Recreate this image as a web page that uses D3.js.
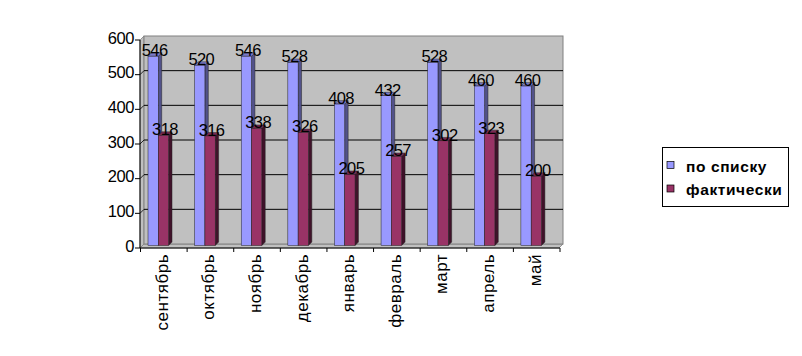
<!DOCTYPE html>
<html><head><meta charset="utf-8">
<script src="https://cdn.jsdelivr.net/npm/d3@7"></script>
<style>body{margin:0;background:#fff}svg{display:block}text{font-family:"Liberation Sans",Arial,sans-serif;fill:#000}</style>
</head><body>
<script>
const categories = ["сентябрь","октябрь","ноябрь","декабрь","январь","февраль","март","апрель","май"];
const seriesNames = ["по списку","фактически"];
const planned = [546,520,546,528,408,432,528,460,460];
const actual = [318,316,338,326,205,257,302,323,200];
const yTicks = [0,100,200,300,400,500,600];
const colors = [{front:"#9999ff", side:"#52528a", top:"#7a7acc"},{front:"#993366", side:"#40122a", top:"#7a2952"}];
const series = [planned, actual];

const W=802,H=356;
const svg=d3.select("body").append("svg").attr("width",W).attr("height",H);
const D=4; // wall depth offset
const x=d3.scaleBand().domain(categories).range([140.5,560]);
const yF=d3.scaleLinear().domain([0,600]).range([248,40]);
const yB=v=>yF(v)-D;
const yBar=v=>yF(v)-2.5;

// side wall
svg.append("path").attr("d",`M140,${yF(0)}L${140+D},${yB(0)}L${140+D},${yB(600)}L140,${yF(600)}Z`).attr("fill","#c0c0c0").attr("stroke","#808080").attr("stroke-width",0.8);
// floor
svg.append("path").attr("d",`M140,${yF(0)}L${140+D},${yB(0)}L${563},${yB(0)}L${559},${yF(0)}Z`).attr("fill","#c0c0c0").attr("stroke","#808080").attr("stroke-width",0.8);
// back wall
svg.append("rect").attr("x",140+D).attr("y",yB(600)).attr("width",563-140-D).attr("height",yB(0)-yB(600)).attr("fill","#c0c0c0").attr("stroke","#808080").attr("stroke-width",1);
// gridlines
yTicks.filter(t=>t>0&&t<600).forEach(t=>{
  svg.append("line").attr("x1",140+D).attr("x2",563).attr("y1",yB(t)).attr("y2",yB(t)).attr("stroke","#000").attr("stroke-width",1);
  svg.append("line").attr("x1",140).attr("x2",140+D).attr("y1",yF(t)).attr("y2",yB(t)).attr("stroke","#000").attr("stroke-width",0.8);
});

// bars
const bw=10.3, dd=3.4, off=7.5;
categories.forEach((c,i)=>{
  series.forEach((s,k)=>{
    const x0=x(c)+off+k*bw, x1=x0+bw, yt=yBar(s[i]), yb=yBar(0);
    const col=colors[k];
    const g=svg.append("g");
    g.append("path").attr("d",`M${x1},${yb}L${x1+dd},${yb-dd}L${x1+dd},${yt-dd}L${x1},${yt}Z`).attr("fill",col.side).attr("stroke","#222").attr("stroke-width",0.5);
    g.append("path").attr("d",`M${x0},${yt}L${x0+dd},${yt-dd}L${x1+dd},${yt-dd}L${x1},${yt}Z`).attr("fill",col.top).attr("stroke","#222").attr("stroke-width",0.5);
    g.append("rect").attr("x",x0).attr("y",yt).attr("width",bw).attr("height",yb-yt).attr("fill",col.front).attr("stroke","#222").attr("stroke-width",0.5);
  });
});
// data labels
categories.forEach((c,i)=>{
  series.forEach((s,k)=>{
    const cx=x(c)+off+k*bw+bw/2+1.5;
    svg.append("text").attr("x",cx).attr("y",yBar(s[i])).attr("text-anchor","middle").attr("font-size",16.5).attr("letter-spacing",-0.6).text(s[i]);
  });
});

// axes
svg.append("line").attr("x1",140).attr("x2",140).attr("y1",yF(0)).attr("y2",yF(600)).attr("stroke","#000");
svg.append("line").attr("x1",140).attr("x2",560).attr("y1",yF(0)).attr("y2",yF(0)).attr("stroke","#000");
yTicks.forEach(t=>{
  svg.append("line").attr("x1",135).attr("x2",140).attr("y1",yF(t)).attr("y2",yF(t)).attr("stroke","#000");
  svg.append("text").attr("x",134).attr("y",yF(t)-2).attr("dy","0.35em").attr("text-anchor","end").attr("font-size",16.5).attr("letter-spacing",-0.4).text(t);
});
categories.forEach((c,i)=>{
  svg.append("line").attr("x1",x(c)).attr("x2",x(c)).attr("y1",yF(0)).attr("y2",yF(0)+4).attr("stroke","#000");
  if(i===categories.length-1) svg.append("line").attr("x1",x(c)+x.bandwidth()).attr("x2",x(c)+x.bandwidth()).attr("y1",yF(0)).attr("y2",yF(0)+4).attr("stroke","#000");
  const cx=x(c)+x.bandwidth()/2-2;
  svg.append("text").attr("transform",`translate(${cx},254) rotate(-90)`).attr("text-anchor","end").attr("dy","0.35em").attr("font-size",17).attr("letter-spacing",0.5).text(c);
});

// legend
const lg=svg.append("g");
lg.append("rect").attr("x",662.5).attr("y",147.5).attr("width",126).attr("height",59).attr("fill","#fff").attr("stroke","#000");
seriesNames.forEach((n,k)=>{
  const yy=[171.5,195][k];
  lg.append("rect").attr("x",667).attr("y",yy-10).attr("width",7).attr("height",7).attr("fill",colors[k].front).attr("stroke","#000").attr("stroke-width",0.7);
  lg.append("text").attr("x",686).attr("y",yy).attr("font-size",15.5).attr("font-weight","bold").attr("letter-spacing",0.6).text(n);
});
</script>
</body></html>
